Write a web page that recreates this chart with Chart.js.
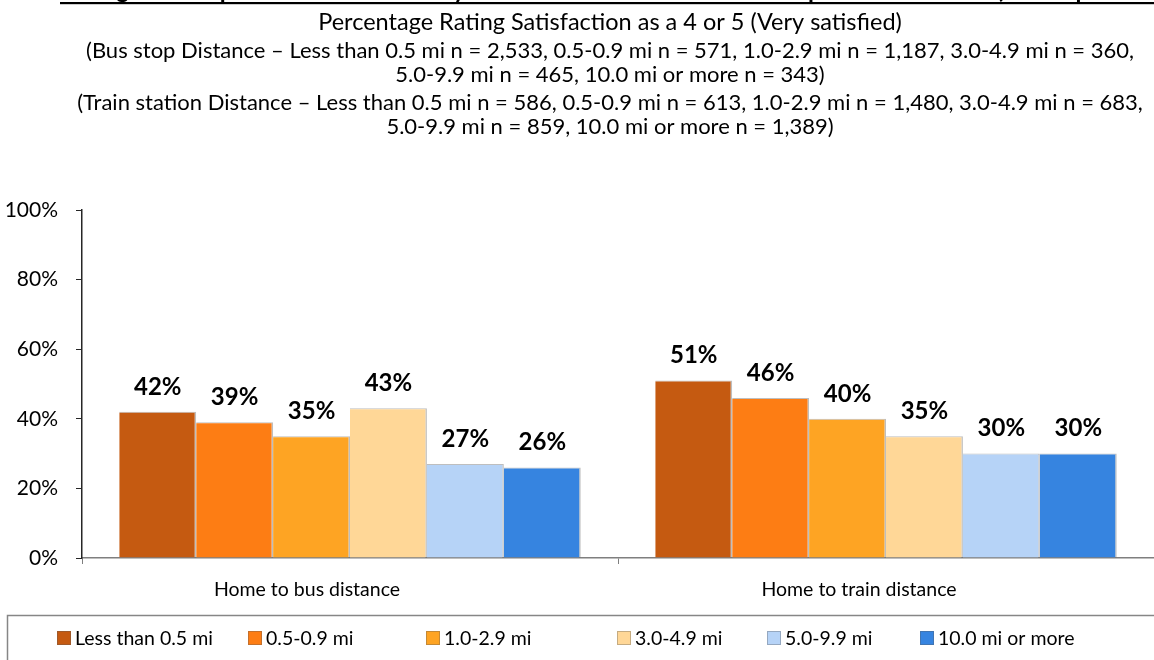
<!DOCTYPE html>
<html>
<head>
<meta charset="utf-8">
<script src="https://cdn.jsdelivr.net/npm/chart.js@4.4.1/dist/chart.umd.min.js"></script>
<style>
  html, body { margin: 0; padding: 0; background: #fff; }
  #wrap { width: 1154px; height: 660px; position: relative; overflow: hidden; }
  canvas { display: block; }
</style>
</head>
<body>
<div id="wrap"><canvas id="chart" width="1154" height="660"></canvas></div>
<script>
// ---- data ----
const categories = ['Home to bus distance', 'Home to train distance'];
const distanceBands = ['Less than 0.5 mi', '0.5-0.9 mi', '1.0-2.9 mi', '3.0-4.9 mi', '5.0-9.9 mi', '10.0 mi or more'];
const lessThanHalfMile = [42, 51];
const halfToOneMile = [39, 46];
const oneToThreeMiles = [35, 40];
const threeToFiveMiles = [43, 35];
const fiveToTenMiles = [27, 30];
const tenOrMoreMiles = [26, 30];
const yTickValues = [0, 20, 40, 60, 80, 100];

const titleText = 'Rating of Transportation Resources by Distance from Home to Bus Stop or Train Station (All Respondents)';
const subtitleText = 'Percentage Rating Satisfaction as a 4 or 5 (Very satisfied)';
const noteLines = [
  '(Bus stop Distance \u2013 Less than 0.5 mi n = 2,533, 0.5-0.9 mi n = 571, 1.0-2.9 mi n = 1,187, 3.0-4.9 mi n = 360,',
  '5.0-9.9 mi n = 465, 10.0 mi or more n = 343)',
  '(Train station Distance \u2013 Less than 0.5 mi n = 586, 0.5-0.9 mi n = 613, 1.0-2.9 mi n = 1,480, 3.0-4.9 mi n = 683,',
  '5.0-9.9 mi n = 859, 10.0 mi or more n = 1,389)'
];

// ---- styling ----
const FONT = "Lato, 'Noto Sans', sans-serif";
const seriesValues = [lessThanHalfMile, halfToOneMile, oneToThreeMiles, threeToFiveMiles, fiveToTenMiles, tenOrMoreMiles];
const seriesColors = ['#C55A11', '#FD7D14', '#FEA423', '#FFD797', '#B6D3F7', '#3684E0'];
const legendBoxX = [57, 248, 426, 617, 767, 920];
const categoryLabelShift = [-43, -27];

// Header: cut-off underlined title, subtitle and sample-size notes
const headerPlugin = {
  id: 'header',
  beforeDraw(chart) {
    const ctx = chart.ctx;
    ctx.save();
    ctx.fillStyle = '#fff';
    ctx.fillRect(0, 0, chart.width, chart.height);
    ctx.fillStyle = '#000';
    ctx.textBaseline = 'alphabetic';
    ctx.font = `bold 24px ${FONT}`;
    ctx.textAlign = 'left';
    ctx.fillText(titleText, 60, -2);
    ctx.fillRect(60, 2, chart.width - 60, 2.2);

    ctx.textAlign = 'center';
    ctx.textBaseline = 'middle';
    const cx = 610;
    ctx.font = `23.5px ${FONT}`;
    ctx.fillText(subtitleText, cx, 22);
    ctx.font = `22px ${FONT}`;
    const ys = [51, 75, 103, 127];
    noteLines.forEach((t, i) => ctx.fillText(t, cx, ys[i]));
    ctx.restore();
  }
};

// Percentage labels above each bar
const valueLabelPlugin = {
  id: 'valueLabels',
  afterDatasetsDraw(chart) {
    const ctx = chart.ctx;
    ctx.save();
    ctx.font = `bold 24px ${FONT}`;
    ctx.fillStyle = '#000';
    ctx.textAlign = 'center';
    ctx.textBaseline = 'middle';
    chart.data.datasets.forEach((ds, di) => {
      chart.getDatasetMeta(di).data.forEach((bar, i) => {
        ctx.fillText(ds.data[i] + '%', bar.x, bar.y - 25);
      });
    });
    ctx.restore();
  }
};

// Category names under the axis
const categoryLabelPlugin = {
  id: 'categoryLabels',
  afterDraw(chart) {
    const ctx = chart.ctx;
    const xs = chart.scales.x;
    ctx.save();
    ctx.font = `19.5px ${FONT}`;
    ctx.fillStyle = '#000';
    ctx.textAlign = 'center';
    ctx.textBaseline = 'middle';
    chart.data.labels.forEach((lab, i) => {
      ctx.fillText(lab, xs.getPixelForValue(i) + categoryLabelShift[i], 590);
    });
    ctx.restore();
  }
};

// Boxed legend along the bottom
const legendBoxPlugin = {
  id: 'legendBox',
  afterDraw(chart) {
    const ctx = chart.ctx;
    ctx.save();
    ctx.strokeStyle = '#868686';
    ctx.lineWidth = 1.5;
    ctx.strokeRect(7.5, 615.5, chart.width + 20, 80);
    ctx.font = `19.5px ${FONT}`;
    ctx.textAlign = 'left';
    ctx.textBaseline = 'middle';
    const y = 638;
    chart.data.datasets.forEach((ds, i) => {
      const x = legendBoxX[i];
      ctx.fillStyle = ds.backgroundColor;
      ctx.fillRect(x, y - 7, 14, 14);
      ctx.strokeStyle = 'rgba(90,90,90,0.35)';
      ctx.lineWidth = 1;
      ctx.strokeRect(x + 0.5, y - 6.5, 13, 13);
      ctx.fillStyle = '#000';
      ctx.fillText(ds.label, x + 18, y + 1);
    });
    ctx.restore();
  }
};

const datasets = distanceBands.map((name, i) => ({
  label: name,
  data: seriesValues[i],
  backgroundColor: seriesColors[i],
  borderColor: 'rgba(70,70,70,0.35)',
  borderWidth: { top: 1, right: 1.5, left: 0, bottom: 0 },
  categoryPercentage: 0.861,
  barPercentage: 1
}));

new Chart(document.getElementById('chart').getContext('2d'), {
  type: 'bar',
  data: { labels: categories, datasets },
  options: {
    responsive: false,
    animation: false,
    devicePixelRatio: 1,
    layout: { padding: { top: 210, left: 0, right: -6, bottom: 0 } },
    plugins: {
      legend: { display: false },
      title: { display: false },
      tooltip: { enabled: false }
    },
    scales: {
      x: {
        grid: { drawOnChartArea: false, drawTicks: true, tickLength: 6, color: '#7f7f7f', lineWidth: 1 },
        border: { color: '#7f7f7f', width: 1.5 },
        ticks: { display: false },
        afterFit: s => { s.height = 102; }
      },
      y: {
        min: 0,
        max: 100,
        afterBuildTicks: s => { s.ticks = yTickValues.map(v => ({ value: v })); },
        ticks: { callback: v => v + '%', font: { family: FONT, size: 21 }, color: '#000', padding: 18 },
        grid: { drawOnChartArea: false, drawTicks: true, tickLength: 6, color: '#262626', lineWidth: 1 },
        border: { color: '#262626', width: 1.5 },
        afterFit: s => { s.width = 82; }
      }
    }
  },
  plugins: [headerPlugin, valueLabelPlugin, categoryLabelPlugin, legendBoxPlugin]
});
</script>
</body>
</html>
